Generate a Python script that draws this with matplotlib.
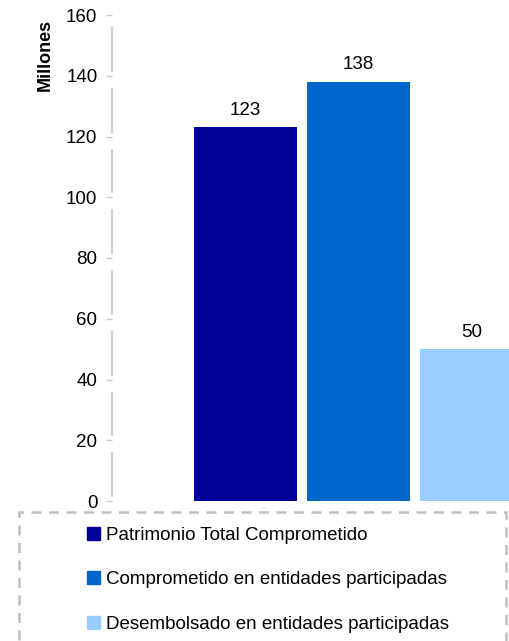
import matplotlib.pyplot as plt
from matplotlib.patches import Patch, Rectangle

plt.rcParams['font.family'] = ['Liberation Sans', 'DejaVu Sans']

series = ['Patrimonio Total Comprometido',
          'Comprometido en entidades participadas',
          'Desembolsado en entidades participadas']
values = [123, 138, 50]
colors = ['#000099', '#0066CC', '#99CCFF']
yticks = [0, 20, 40, 60, 80, 100, 120, 140, 160]

fig = plt.figure(figsize=(5.10, 6.41), dpi=100)
ax = fig.add_axes([112 / 510, 1 - 501 / 641, 1 - 112 / 510, (501 - 15) / 641])

pos = list(range(len(values)))
bars = ax.bar(pos, values, width=0.91, color=colors, clip_on=True)
for b, v in zip(bars, values):
    ax.annotate(str(v), (b.get_x() + b.get_width() / 2, v), xytext=(0, 6),
                textcoords='offset points', ha='center', va='bottom', fontsize=13.5)

ax.set_xlim(-1.181, 2.341)
ax.set_ylim(0, 160)
ax.set_xticks([])
ax.set_yticks(yticks)
ax.tick_params(axis='y', length=4.5, color='#c8c8c8', width=1, labelsize=13.5, pad=6)
for s in ax.spines.values():
    s.set_visible(False)

# axis line drawn in pieces with small gaps around the ticks, like the original
for lo, hi in zip(yticks[:-1], yticks[1:]):
    ax.vlines(-1.181, lo + 1.3, hi - 4, color='#d0d0d0', lw=1.5, clip_on=False)

fig.text(45 / 510, 1 - 55 / 641, 'Millones', rotation=90, fontsize=13,
         fontweight='bold', ha='center', va='center')

# dashed legend frame
fig.patches.append(Rectangle((19 / 510, -0.05), (506 - 19) / 510, 0.05 + (641 - 512) / 641,
                             transform=fig.transFigure, fill=False, ec='#c0c0c0',
                             lw=1.8, ls=(0, (4, 3))))

handles = [Patch(color=c, label=s) for c, s in zip(colors, series)]
fig.legend(handles=handles, loc='upper left', bbox_to_anchor=(87 / 510, 1 - 527 / 641),
           frameon=False, fontsize=13.5, handlelength=0.7, handleheight=0.7,
           handletextpad=0.3, labelspacing=1.45, borderpad=0, borderaxespad=0)

fig.savefig('out.png', dpi=100)
